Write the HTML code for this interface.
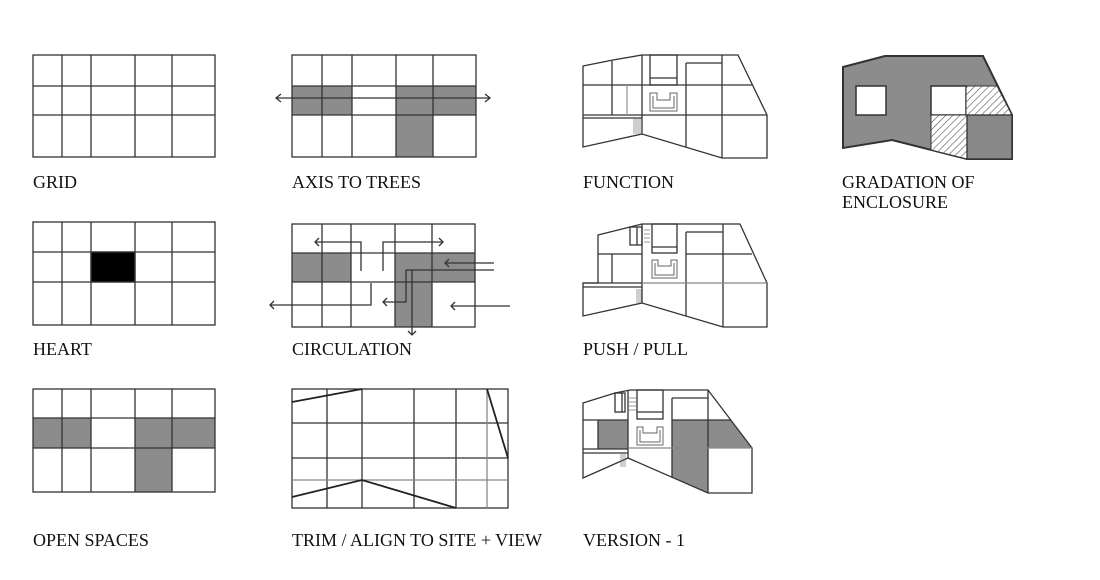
<!DOCTYPE html>
<html><head><meta charset="utf-8"><style>
html,body{margin:0;padding:0;background:#fff;}
svg{display:block;}
text{font-family:"Liberation Serif",serif;font-size:18px;fill:#111;}
</style></head><body>
<svg width="1100" height="580" viewBox="0 0 1100 580" xmlns="http://www.w3.org/2000/svg">
<defs>
<pattern id="h" width="5" height="5" patternUnits="userSpaceOnUse" patternTransform="rotate(45)">
<rect width="5" height="5" fill="#fff"/><line x1="0" y1="0" x2="0" y2="5" stroke="#555" stroke-width="1.2"/></pattern>
</defs>
<g stroke="#333" stroke-width="1.3" fill="none">
<!-- GRID -->
<rect x="33" y="55" width="182" height="102"/>
<path d="M62 55V157M91 55V157M135 55V157M172 55V157M33 86H215M33 115H215"/>
<!-- AXIS -->
<g fill="#8c8c8c" stroke="none"><rect x="292" y="86" width="60" height="29"/><rect x="396" y="86" width="80" height="29"/><rect x="396" y="115" width="37" height="42"/></g>
<rect x="292" y="55" width="184" height="102"/>
<path d="M322 55V157M352 55V157M396 55V157M433 55V157M292 86H476M292 115H476"/>
<path d="M276 98H490M281 94L276 98L281 102M485 94L490 98L485 102"/>
<!-- HEART -->
<rect x="91" y="252" width="44" height="30" fill="#000"/>
<rect x="33" y="222" width="182" height="103"/>
<path d="M62 222V325M91 222V325M135 222V325M172 222V325M33 252H215M33 282H215"/>
<!-- CIRCULATION -->
<g fill="#8c8c8c" stroke="none"><rect x="292" y="253" width="59" height="29"/><rect x="395" y="253" width="80" height="29"/><rect x="395" y="282" width="37" height="45"/></g>
<rect x="292" y="224" width="183" height="103"/>
<path d="M322 224V327M351 224V327M395 224V327M432 224V327M292 253H475M292 282H475"/>
<path d="M361 271V242H315M319 238L315 242L319 246"/>
<path d="M383 271V242H443M439 238L443 242L439 246"/>
<path d="M371 283V305H270M274 301L270 305L274 309"/>
<path d="M494 263H445M449 259L445 263L449 267"/>
<path d="M494 270H406V302H383M387 298L383 302L387 306"/>
<path d="M412 270V335M408 331L412 335L416 331"/>
<path d="M510 306H451M455 302L451 306L455 310"/>
<!-- OPEN SPACES -->
<g fill="#8c8c8c" stroke="none"><rect x="33" y="418" width="58" height="30"/><rect x="135" y="418" width="80" height="30"/><rect x="135" y="448" width="37" height="44"/></g>
<rect x="33" y="389" width="182" height="103"/>
<path d="M62 389V492M91 389V492M135 389V492M172 389V492M33 418H215M33 448H215"/>
<!-- TRIM -->
<rect x="292" y="389" width="216" height="119"/>
<path d="M327 389V508M362 389V508M414 389V508M456 389V508M292 423H508M292 458H508"/>
<path d="M487 389V508M292 480H508" stroke="#888"/>
<path d="M292 402L362 389M487 389L508 458M292 497L362 480L456 508" stroke-width="1.8" stroke="#222"/>
<!-- FUNCTION -->
<path d="M583 66L613 60L642 55H738L767 115V158H722L642 134L583 147Z"/>
<path d="M612 61V115M583 85H752M583 115H767M583 118H642M642 55V134M722 55V158M686 63V147M686 63H722"/>
<path d="M627 85V115" stroke="#999"/>
<path d="M634 118V134M636 118V134M638 118V134M640 118V134" stroke="#777" stroke-width="0.7"/>
<rect x="650" y="55" width="27" height="30"/><path d="M650 78H677"/>
<path d="M650 93H657V100H670V93H677V111H650Z M653 96V108H674V96" stroke-width="1" stroke="#666"/>
<!-- GRADATION -->
<path d="M843 67L885 56H983L1012 115V159H967L892 140L843 148Z" fill="#8c8c8c" stroke="#333" stroke-width="2"/>
<rect x="856" y="86" width="30" height="29" fill="#fff" stroke-width="1.5"/>
<rect x="931" y="86" width="35" height="29" fill="#fff" stroke-width="1.5"/>
<path d="M966 86H997L1012 115H966Z" fill="url(#h)" stroke-width="1"/>
<path d="M931 115H967V159L931 150Z" fill="url(#h)" stroke-width="1"/>
<rect x="967" y="115" width="45" height="44" fill="#888" stroke-width="1.3"/>
<!-- PUSH/PULL -->
<path d="M598 235L630 227L642 224H740L767 283V327H723L642 303L583 316V283H598Z"/>
<path d="M583 283H642V287H583M598 254H642M612 254V283M642 224V303M686 232V316M686 232H723M723 224V327M686 254H752"/>
<path d="M642 283H767" stroke="#888"/>
<rect x="630" y="227" width="12" height="18"/><path d="M637 227V245"/>
<path d="M644 230H650M644 234H650M644 238H650M644 242H650M637 289V303M639 289V303M641 289V303" stroke="#777" stroke-width="0.7"/>
<rect x="652" y="224" width="25" height="29"/><path d="M652 247H677"/>
<path d="M652 260H658V266H671V260H677V278H652Z M655 263V275H674V263" stroke-width="1" stroke="#666"/>
<!-- VERSION 1 -->
<g fill="#8c8c8c" stroke="none"><rect x="598" y="420" width="30" height="29"/><rect x="672" y="420" width="36" height="28"/><path d="M708 420H731L752 448H708Z"/><path d="M672 448H708V493L672 477Z"/></g>
<path d="M583 403L615 393L630 390H708L752 448V493H708L628 458L583 478Z"/>
<path d="M583 449H628V453H583M583 420H628M598 420V449M628 390V458M672 420H731M672 398V477M672 398H708M708 390V493"/>
<path d="M628 448H752" stroke="#888"/>
<rect x="615" y="393" width="10" height="19"/><path d="M622 393V412"/>
<path d="M629 398H637M629 402H637M629 406H637M629 410H637M621 453V467M623 453V467M625 453V467" stroke="#777" stroke-width="0.7"/>
<rect x="637" y="390" width="26" height="29"/><path d="M637 412H663"/>
<path d="M637 427H643V433H657V427H663V445H637Z M640 430V442H660V430" stroke-width="1" stroke="#666"/>
</g>
<text x="33" y="188">GRID</text>
<text x="292" y="188">AXIS TO TREES</text>
<text x="583" y="188">FUNCTION</text>
<text x="842" y="188">GRADATION OF</text>
<text x="842" y="208">ENCLOSURE</text>
<text x="33" y="355">HEART</text>
<text x="292" y="355">CIRCULATION</text>
<text x="583" y="355">PUSH / PULL</text>
<text x="33" y="546">OPEN SPACES</text>
<text x="292" y="546">TRIM / ALIGN TO SITE + VIEW</text>
<text x="583" y="546">VERSION - 1</text>
</svg>
</body></html>
